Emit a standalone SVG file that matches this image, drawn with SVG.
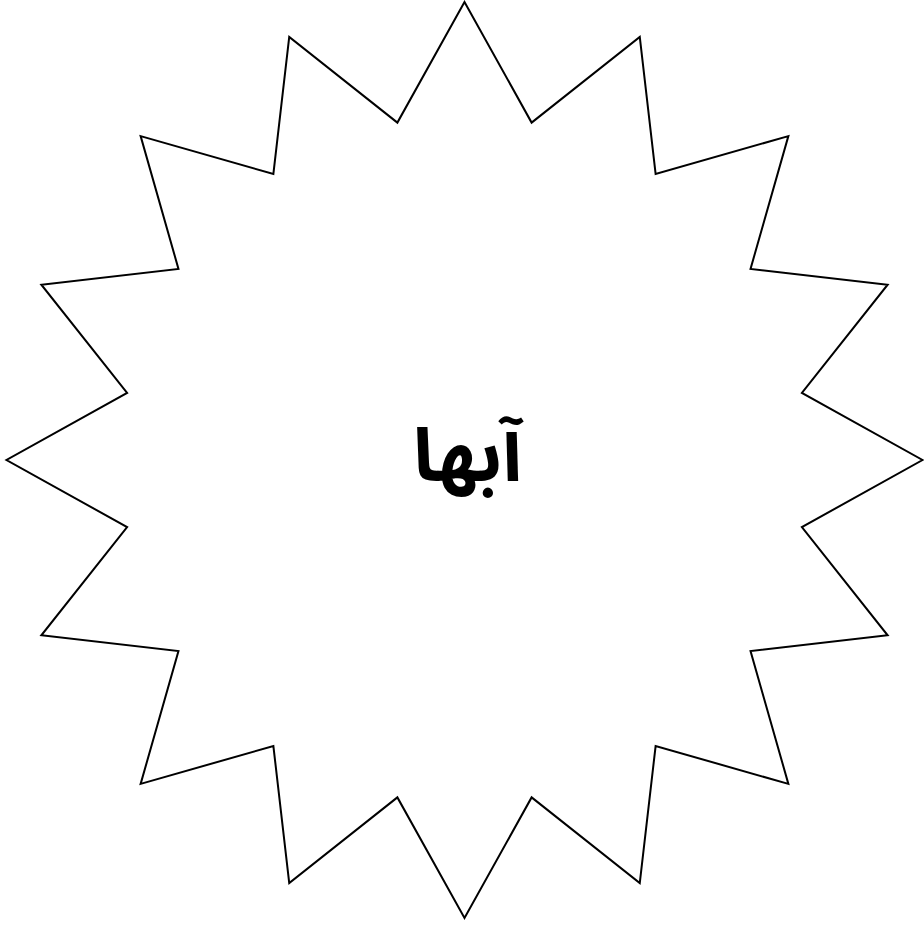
<svg xmlns="http://www.w3.org/2000/svg" width="924" height="927" viewBox="0 0 924 927">
<style>
.star{fill:#fff;stroke:#000;stroke-width:2;stroke-linejoin:miter}
.lbl{font-family:"Noto Sans Arabic","Noto Sans","Noto Naskh Arabic",sans-serif;font-weight:bold;font-size:74px;fill:#000}
</style>
<rect width="924" height="927" fill="#fff"/>
<g id="star">
<polygon class="star" points="464.5,2 531.61,122.61 639.77,36.86 655.62,173.97 788.36,136.14 750.53,268.88 887.64,284.73 801.89,392.89 922.5,460 801.89,527.11 887.64,635.27 750.53,651.12 788.36,783.86 655.62,746.03 639.77,883.14 531.61,797.39 464.5,918 397.39,797.39 289.23,883.14 273.38,746.03 140.64,783.86 178.47,651.12 41.36,635.27 127.11,527.11 6.5,460 127.11,392.89 41.36,284.73 178.47,268.88 140.64,136.14 273.38,173.97 289.23,36.86 397.39,122.61"/>
<text class="lbl" x="467.5" y="481" text-anchor="middle" direction="rtl">آبها</text>
</g>
</svg>
